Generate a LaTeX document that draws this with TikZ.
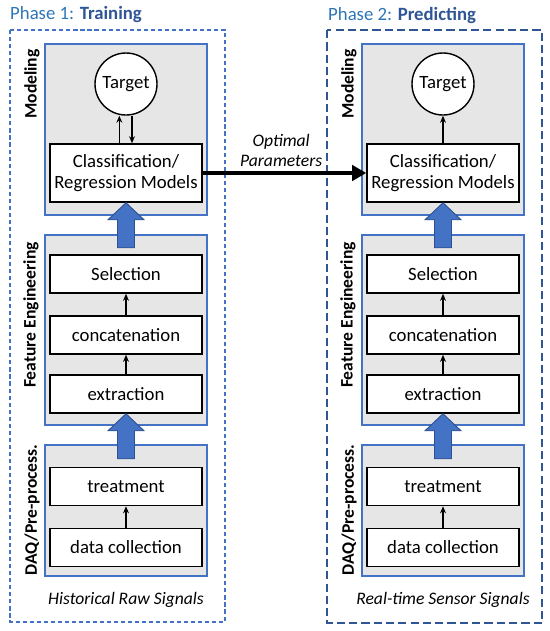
\documentclass[tikz,border=0pt]{standalone}
\usepackage{fontspec}
\setmainfont{Carlito}
\usetikzlibrary{arrows.meta}

\definecolor{phaseblue}{HTML}{2E75B6}
\definecolor{phasedark}{HTML}{2F5597}
\definecolor{panelblue}{HTML}{4472C4}
\definecolor{panelgray}{HTML}{E7E6E6}
\definecolor{arrowedge}{HTML}{2F528F}

\begin{document}
\begin{tikzpicture}[
  x=0.03cm, y=-0.03cm,
  every node/.style={font=\fontsize{16}{18.5}\selectfont},
  panel/.style={draw=panelblue, fill=panelgray, line width=1.1pt, minimum width=4.86cm},
  stepbox/.style={draw, fill=white, line width=1.3pt, minimum width=4.56cm,
               minimum height=1.14cm, align=center, inner sep=0pt},
  targetnode/.style={draw, circle, fill=white, line width=1.2pt, minimum size=1.86cm, inner sep=0pt},
  sidelabel/.style={rotate=90, font=\fontsize{15}{17}\selectfont\bfseries},
  signals/.style={font=\fontsize{15}{17}\selectfont\itshape},
  smallarrow/.style={-{Stealth[length=6pt,width=5pt]}, line width=1.2pt},
  uparrow/.pic={\draw[fill=panelblue, draw=arrowedge, line width=0.8pt]
     (0,0) -- (18,17) -- (8.5,17) -- (8.5,45) -- (-8.5,45) -- (-8.5,17) -- (-18,17) -- cycle;}
]
  \useasboundingbox (0,0) rectangle (550,631);

  % phase frames and titles
  \draw[draw=panelblue, line width=1pt, dash pattern=on 3.5pt off 2.5pt] (10,30) rectangle (225,622);
  \draw[draw=phasedark, line width=2pt, dash pattern=on 7pt off 3.5pt] (327,30) rectangle (542,623);
  \node[anchor=west, text=phaseblue, font=\fontsize{16}{18}\selectfont, inner sep=0pt] (title-L) at (10,15)
    {Phase 1: \textcolor{phasedark}{\textbf{Training}}};
  \node[anchor=west, text=phaseblue, font=\fontsize{16}{18}\selectfont, inner sep=0pt] (title-R) at (328,15)
    {Phase 2: \textcolor{phasedark}{\textbf{Predicting}}};

  % both columns
  \foreach \c/\x/\sig in {L/126/Historical Raw Signals, R/443/Real-time Sensor Signals} {
    \node[panel, minimum height=5.13cm] (model-\c) at (\x,129.5) {};
    \node[panel, minimum height=5.7cm]  (feat-\c)  at (\x,330) {};
    \node[panel, minimum height=3.93cm] (daq-\c)   at (\x,510.5) {};

    \node[targetnode] (tgt-\c) at (\x,84) {Target};
    \node[stepbox, minimum height=1.74cm] (clf-\c) at (\x,173) {Classification/\\Regression Models};
    \node[stepbox] (sel-\c)  at (\x,274) {Selection};
    \node[stepbox] (cat-\c)  at (\x,335) {concatenation};
    \node[stepbox] (ext-\c)  at (\x,394) {extraction};
    \node[stepbox] (treat-\c) at (\x,486.5) {treatment};
    \node[stepbox] (coll-\c) at (\x,547.5) {data collection};

    \node[sidelabel] (lab-model-\c) at (\x-94,84)  {Modeling};
    \node[sidelabel] (lab-feat-\c)  at (\x-95,315) {Feature Engineering};
    \node[sidelabel] (lab-daq-\c)   at (\x-94,510) {DAQ/Pre-process.};
    \node[signals]   (sig-\c)       at (\x,600)    {\sig};

    \draw[smallarrow] (ext-\c)  -- (cat-\c);
    \draw[smallarrow] (cat-\c)  -- (sel-\c);
    \draw[smallarrow] (coll-\c) -- (treat-\c);

    \pic at (clf-\c.south) {uparrow};
    \pic at (ext-\c.south) {uparrow};
  }

  % model <-> target
  \draw[smallarrow] ([xshift=-0.2cm]clf-L.north) -- ([xshift=-0.2cm]tgt-L.south);
  \draw[smallarrow] ([xshift=0.18cm]tgt-L.south) -- ([xshift=0.18cm]clf-L.north);
  \draw[smallarrow] (clf-R) -- (tgt-R);

  % training -> predicting
  \draw[line width=3pt, -{Triangle[length=12pt,width=13pt]}] (clf-L) --
    node[above=1pt, xshift=-0.1cm, align=center, font=\fontsize{15}{17}\selectfont\itshape] (opt) {Optimal\\Parameters} (clf-R);
\end{tikzpicture}
\end{document}
